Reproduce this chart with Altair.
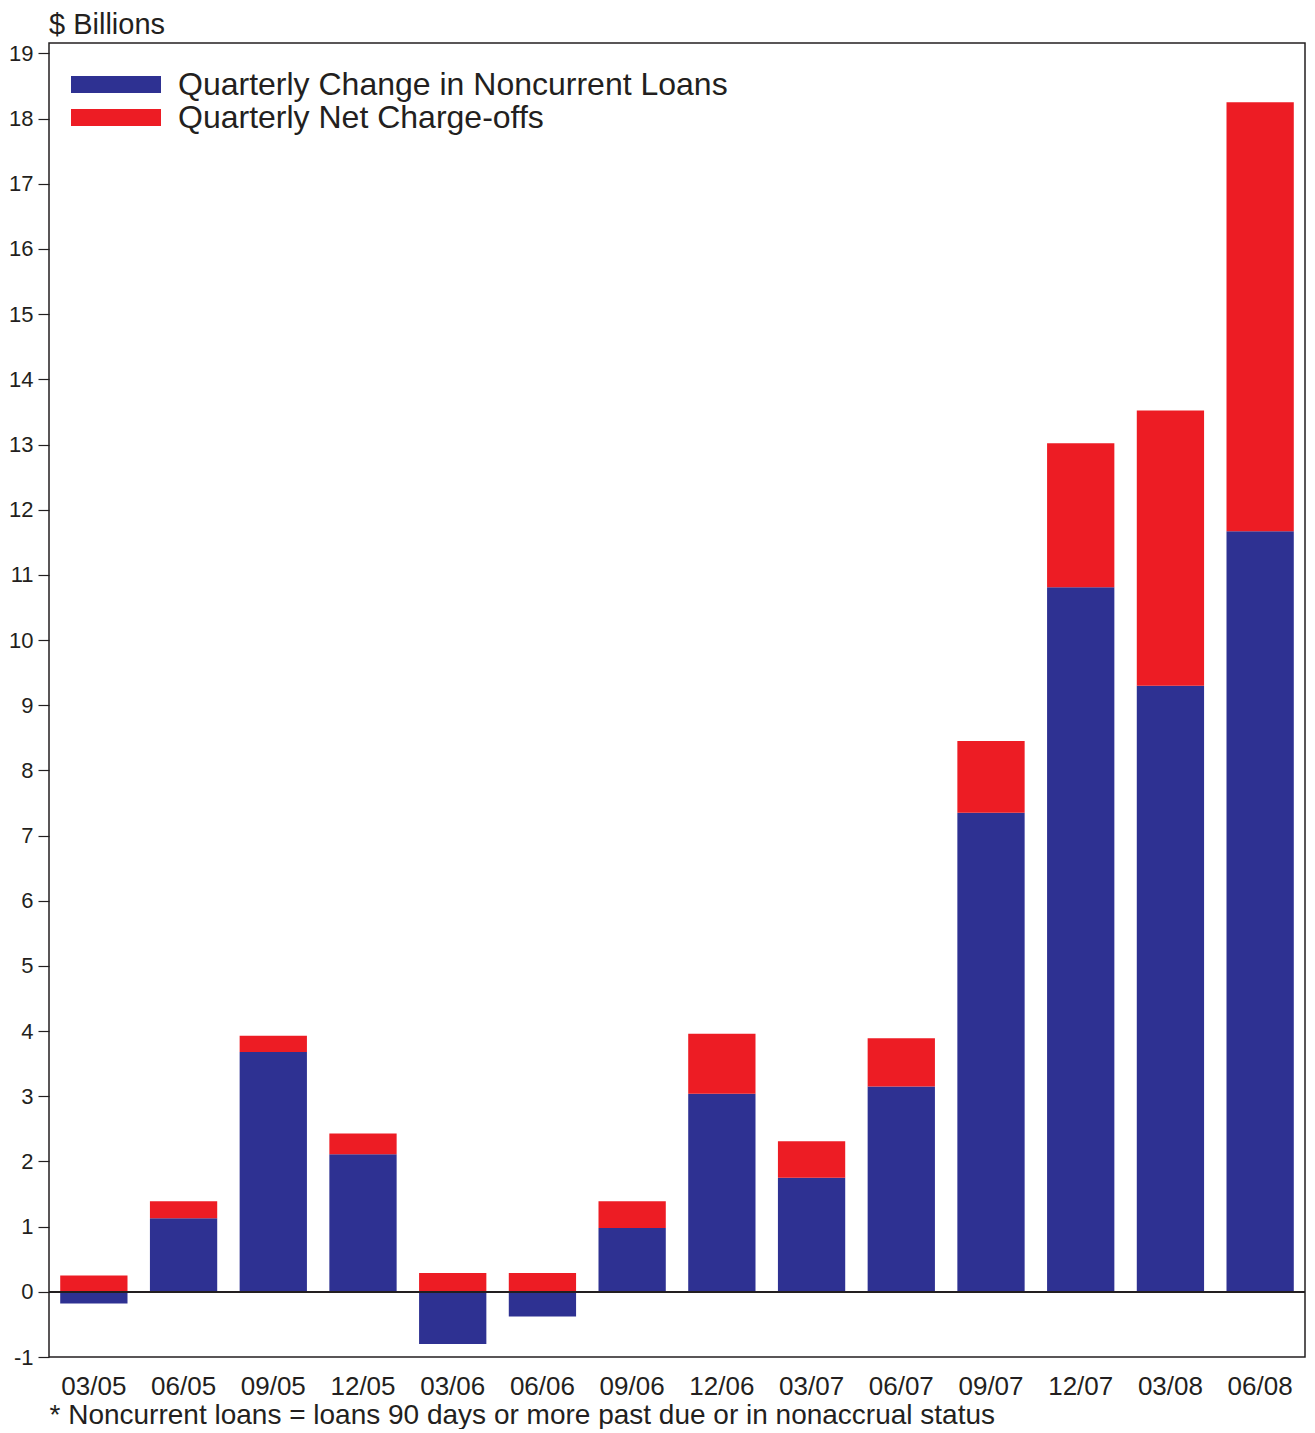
import altair as alt
import pandas as pd

quarters = ["03/05", "06/05", "09/05", "12/05", "03/06", "06/06", "09/06",
            "12/06", "03/07", "06/07", "09/07", "12/07", "03/08", "06/08"]
noncurrent_change = [-0.18, 1.13, 3.68, 2.11, -0.80, -0.38, 0.98,
                     3.04, 1.75, 3.15, 7.35, 10.81, 9.30, 11.67]
net_chargeoffs = [0.25, 0.26, 0.25, 0.32, 0.29, 0.29, 0.41,
                  0.92, 0.56, 0.74, 1.10, 2.21, 4.22, 6.58]
series_names = ["Quarterly Change in Noncurrent Loans", "Quarterly Net Charge-offs"]
series_colors = ["#2E3192", "#ED1C24"]
y_ticks = list(range(-1, 20))
footnote = "* Noncurrent loans = loans 90 days or more past due or in nonaccrual status"
y_title = "$ Billions"

rows = []
for q, a, b in zip(quarters, noncurrent_change, net_chargeoffs):
    rows.append({"quarter": q, "series": series_names[0], "value": a, "order": 0})
    rows.append({"quarter": q, "series": series_names[1], "value": b, "order": 1})
df = pd.DataFrame(rows)

FONT = "Liberation Sans"
TXT = "#231F20"

bars = alt.Chart(df).mark_bar().encode(
    x=alt.X("quarter:N", sort=quarters,
            scale=alt.Scale(paddingInner=0.25, paddingOuter=0.125),
            axis=alt.Axis(title=footnote, labelAngle=0, ticks=False, tickSize=0,
                          domain=False, labelFontSize=26, labelPadding=16,
                          labelColor=TXT, labelFont=FONT,
                          titleFontSize=28, titleFontWeight="normal", titleFont=FONT,
                          titleColor=TXT, titleAnchor="start", titleAlign="left",
                          titlePadding=2)),
    y=alt.Y("value:Q", stack="zero",
            scale=alt.Scale(domain=[-1, 19.16], nice=False, zero=False),
            axis=alt.Axis(values=y_ticks, title=None, grid=False, domain=False,
                          tickSize=11, tickColor=TXT, tickWidth=1.2,
                          labelExpr="datum.value < 0 ? '-' + abs(datum.value) : '' + datum.value",
                          labelFontSize=22, labelPadding=5, labelColor=TXT,
                          labelFont=FONT)),
    color=alt.Color("series:N",
                    scale=alt.Scale(domain=series_names, range=series_colors),
                    legend=alt.Legend(title=None, orient="none", legendX=22, legendY=25,
                                      labelFontSize=32, labelFont=FONT, labelColor=TXT,
                                      symbolType="M-1,-0.19H1V0.19H-1Z",
                                      symbolSize=8100, symbolStrokeWidth=0,
                                      symbolOpacity=1, clipHeight=33, labelOffset=17,
                                      rowPadding=0, labelLimit=900)),
    order=alt.Order("order:Q"),
)

zero_line = alt.Chart(df).mark_rule(color=TXT, strokeWidth=1.5).encode(y=alt.datum(0))

chart = alt.layer(bars, zero_line).properties(
    width=1256, height=1314,
    padding={"left": 0, "top": 3, "right": 0, "bottom": 0},
    title=alt.TitleParams(y_title, anchor="start", frame="group", fontSize=29,
                          fontWeight="normal", font=FONT, color=TXT, offset=2),
).configure_view(stroke=TXT, strokeWidth=1.5)

chart.save("out.html", embed_options={"renderer": "svg", "actions": False})
